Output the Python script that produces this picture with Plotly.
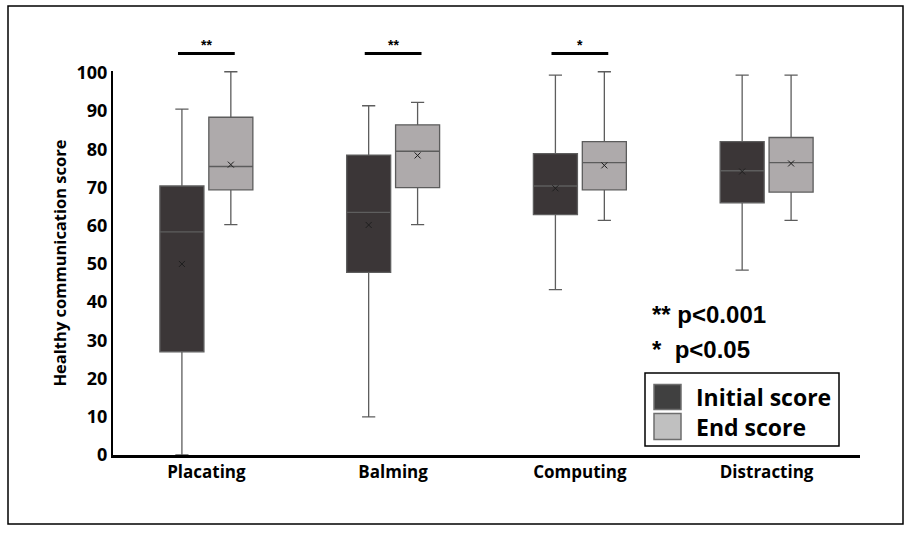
import plotly.graph_objects as go

# ---------------- data ----------------
categories = ["Placating", "Balming", "Computing", "Distracting"]

initial_min = [0, 10, 43.3, 48.4]
initial_q1 = [27, 47.8, 62.9, 66]
initial_median = [58.4, 63.5, 70.4, 74.4]
initial_q3 = [70.4, 78.5, 78.9, 82]
initial_max = [90.5, 91.4, 99.4, 99.4]
initial_mean = [50, 60.2, 69.8, 74.2]

end_min = [60.3, 60.3, 61.4, 61.4]
end_q1 = [69.4, 70, 69.4, 68.8]
end_median = [75.5, 79.5, 76.5, 76.5]
end_q3 = [88.4, 86.4, 82, 83.1]
end_max = [100.3, 92.3, 100.3, 99.4]
end_mean = [76, 78.4, 75.8, 76.3]

series_names = ["Initial score", "End score"]
sig_labels = ["**", "**", "*", ""]
pvalue_notes = ["** p<0.001", "*\u00a0 p<0.05"]
y_ticks = list(range(0, 101, 10))

# ---------------- styling / layout geometry ----------------
W, H = 911, 534
ML, MR, MT, MB = 113, 51, 71, 79
X_RANGE = [-0.5, 3.5]
Y_RANGE = [0, 100.5]
BOXGAP = 0.476
BOXGROUPGAP = 0.10

init_fill = "#3b3637"
end_fill = "#aeaaab"
init_line = "#5e5e5e"
end_line = "#5c5c5c"

plot_w = W - ML - MR
plot_h = H - MT - MB


def px_to_paper_x(px):
    return (px - ML) / plot_w


def px_to_paper_y(py):
    return (H - MB - py) / plot_h


fig = go.Figure()

fig.add_trace(go.Box(
    name=series_names[0], x=categories,
    q1=initial_q1, median=initial_median, q3=initial_q3,
    lowerfence=initial_min, upperfence=initial_max,
    fillcolor=init_fill, line=dict(color=init_line, width=1.3),
    whiskerwidth=0.3, offsetgroup="a", showlegend=False, hoverinfo="skip",
))
fig.add_trace(go.Box(
    name=series_names[1], x=categories,
    q1=end_q1, median=end_median, q3=end_q3,
    lowerfence=end_min, upperfence=end_max,
    fillcolor=end_fill, line=dict(color=end_line, width=1.3),
    whiskerwidth=0.3, offsetgroup="b", showlegend=False, hoverinfo="skip",
))

# mean markers
for nm, means, grp in [(series_names[0], initial_mean, "a"), (series_names[1], end_mean, "b")]:
    fig.add_trace(go.Scatter(
        x=categories, y=means, mode="markers", name=nm + " mean",
        offsetgroup=grp, showlegend=False, hoverinfo="skip",
        marker=dict(symbol="x-thin", size=6, line=dict(color="#1e1e1e", width=1)),
    ))

shapes = []
annotations = []

# significance brackets
half_slot = (1 - BOXGAP) / 4.0
bracket_half = half_slot + 0.021
bracket_y = px_to_paper_y(53.5)
star_y = px_to_paper_y(45)
for i, lab in enumerate(sig_labels):
    if not lab:
        continue
    shapes.append(dict(type="line", xref="x", yref="paper",
                       x0=i - bracket_half, x1=i + bracket_half,
                       y0=bracket_y, y1=bracket_y,
                       line=dict(color="black", width=3)))
    annotations.append(dict(text="<b>" + lab + "</b>", xref="x", yref="paper", x=i, y=star_y,
                            showarrow=False, font=dict(size=14, color="black",
                                                       family="Liberation Sans"),
                            xanchor="center", yanchor="middle"))

# p-value notes
for txt, py in zip(pvalue_notes, [314, 349]):
    annotations.append(dict(text="<b>" + txt + "</b>", xref="paper", yref="paper",
                            x=px_to_paper_x(650), y=px_to_paper_y(py),
                            xanchor="left", yanchor="middle", showarrow=False,
                            font=dict(size=24, color="black", family="Liberation Sans")))

# custom legend
shapes.append(dict(type="rect", xref="paper", yref="paper",
                   x0=px_to_paper_x(645), x1=px_to_paper_x(839),
                   y0=px_to_paper_y(446), y1=px_to_paper_y(373),
                   line=dict(color="black", width=1.5), fillcolor="white", layer="above"))
legend_colors = ["#404040", "#c0c0c0"]
for name, col, (ty, by) in zip(series_names, legend_colors, [(384.5, 409.5), (413.5, 439.5)]):
    shapes.append(dict(type="rect", xref="paper", yref="paper",
                       x0=px_to_paper_x(654), x1=px_to_paper_x(681),
                       y0=px_to_paper_y(by), y1=px_to_paper_y(ty),
                       line=dict(color="#6e6e6e", width=1.5), fillcolor=col, layer="above"))
    annotations.append(dict(text="<b>" + name + "</b>", xref="paper", yref="paper",
                            x=px_to_paper_x(694), y=px_to_paper_y((ty + by) / 2),
                            xanchor="left", yanchor="middle", showarrow=False,
                            font=dict(size=23, color="black", family="Open Sans")))

# outer frame
shapes.append(dict(type="rect", xref="paper", yref="paper",
                   x0=px_to_paper_x(8), x1=px_to_paper_x(903),
                   y0=px_to_paper_y(524), y1=px_to_paper_y(6),
                   line=dict(color="black", width=1.5)))

fig.update_layout(
    width=W, height=H,
    margin=dict(l=ML, r=MR, t=MT, b=MB),
    paper_bgcolor="white", plot_bgcolor="white",
    boxmode="group", boxgap=BOXGAP, boxgroupgap=BOXGROUPGAP,
    scattermode="group", scattergap=BOXGAP,
    showlegend=False,
    shapes=shapes, annotations=annotations,
    font=dict(family="Open Sans", color="black"),
    xaxis=dict(
        type="category", categoryorder="array", categoryarray=categories,
        range=X_RANGE, showline=True, linecolor="black", linewidth=3,
        showgrid=False, zeroline=False, ticks="",
        tickfont=dict(size=17, family="Open Sans", color="black", weight="bold"),
    ),
    yaxis=dict(
        range=Y_RANGE, tickmode="array", tickvals=y_ticks,
        showline=True, linecolor="black", linewidth=2,
        showgrid=False, zeroline=False, ticks="",
        tickfont=dict(size=18, family="Open Sans", color="black", weight="bold"),
        title=dict(text="<b>Healthy communication score</b>", standoff=6,
                   font=dict(size=16.5, family="Open Sans", color="black")),
    ),
)

fig.write_html(
    "out.html",
    config={"displayModeBar": False},
    post_script="document.body.style.margin='0px';document.body.style.overflow='hidden';",
)
